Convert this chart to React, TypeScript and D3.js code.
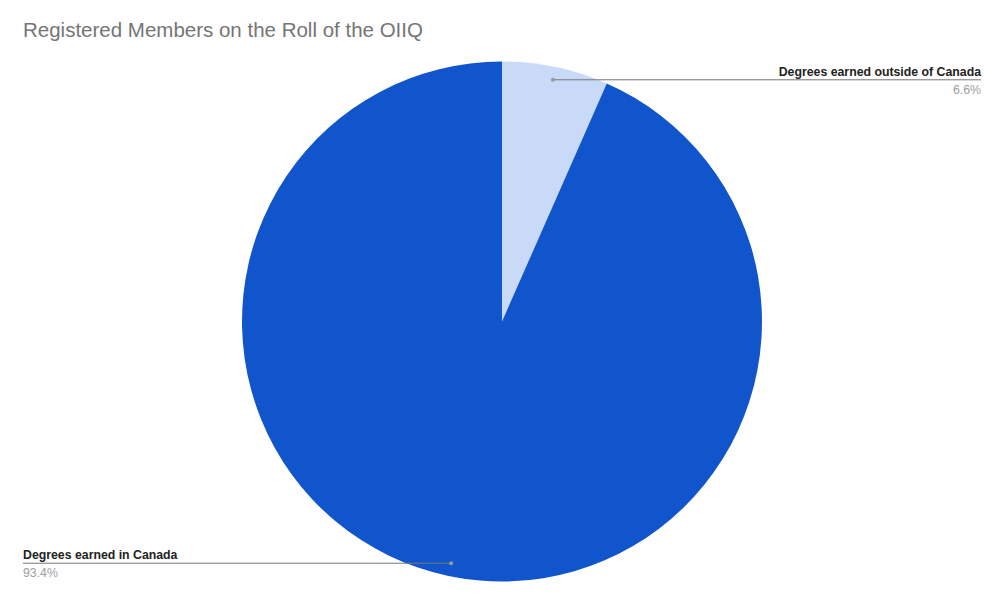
import React from "react";
import * as d3 from "d3";

const categories = ["Degrees earned outside of Canada", "Degrees earned in Canada"];
const values = [6.6, 93.4];
const valueLabels = ["6.6%", "93.4%"];
const colors = ["#c9daf8", "#1155cc"];

const W = 1008;
const H = 611;
const cx = 502;
const cy = 321.5;
const R = 260;

export default function App() {
  const pie = d3.pie<number>().sort(null).value((d) => d)(values);
  const arc = d3.arc<d3.PieArcDatum<number>>().innerRadius(0).outerRadius(R);
  const font = "Arial, 'Liberation Sans', sans-serif";
  return (
    <svg width={W} height={H} style={{ position: "absolute", left: 0, top: 0, background: "#fff" }}>
      <text x={23} y={37} fontFamily={font} fontSize={20.5} fill="#757575">
        Registered Members on the Roll of the OIIQ
      </text>
      <g transform={`translate(${cx},${cy})`}>
        {pie.map((p, i) => (
          <path key={i} d={arc(p) || ""} fill={colors[i]} />
        ))}
      </g>
      {pie.map((p, i) => {
        const mid = (p.startAngle + p.endAngle) / 2;
        const px = cx + Math.sin(mid) * R * 0.95;
        const py = cy - Math.cos(mid) * R * 0.95;
        const right = Math.sin(mid) > 0;
        const lx = right ? 981 : 23;
        const anchor = right ? "end" : "start";
        return (
          <g key={"l" + i}>
            <line x1={px} y1={py} x2={lx} y2={py} stroke="#777" strokeWidth={1} />
            <circle cx={px} cy={py} r={2} fill="#999" />
            <text x={lx} y={py - 4} textAnchor={anchor} fontFamily={font} fontSize={12.3} fontWeight="bold" fill="#222">
              {categories[i]}
            </text>
            <text x={lx} y={py + 14} textAnchor={anchor} fontFamily={font} fontSize={12.3} fill="#9e9e9e">
              {valueLabels[i]}
            </text>
          </g>
        );
      })}
    </svg>
  );
}
